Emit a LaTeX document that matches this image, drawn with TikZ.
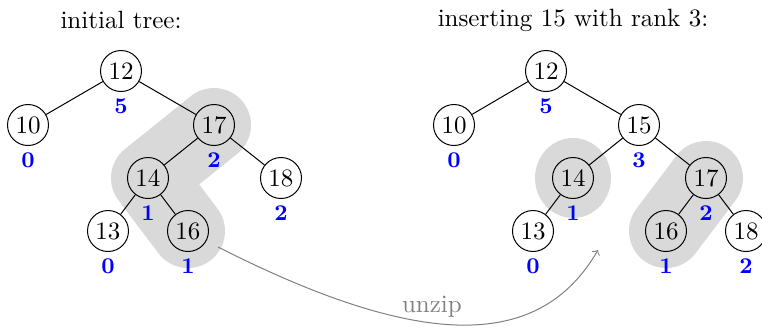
\documentclass[tikz,border=0pt]{standalone}
\usetikzlibrary{backgrounds}
\begin{document}
\begin{tikzpicture}[x=0.4pt,y=0.4pt,
  tn/.style={circle,draw,minimum size=16.4pt,inner sep=0pt,font=\fontsize{10}{12}\selectfont},
  rank/.style={text=blue,font=\fontsize{9}{10}\selectfont\bfseries,inner sep=2.5pt},
  hl/.style={line width=29.6pt,line cap=round,line join=round,draw=black!15},
  ttl/.style={font=\fontsize{10}{12}\selectfont},
  edge/.style={draw=black,line width=0.4pt},
  zipper/.style={draw=gray,line width=0.4pt,->}]
\useasboundingbox (0,0) rectangle (762,-329);
% titles
\node[ttl] (t1) at (121,-20) {initial tree:};
\node[ttl] (t2) at (573,-20) {inserting 15 with rank 3:};
% left tree
\node[tn,label={[rank]below:5}] (a12) at (121,-71) {12};
\node[tn,label={[rank]below:0}] (a10) at (28,-125) {10};
\node[tn,label={[rank]below:2}] (a17) at (214,-125) {17};
\node[tn,label={[rank]below:1}] (a14) at (148,-178) {14};
\node[tn,label={[rank]below:2}] (a18) at (281,-178) {18};
\node[tn,label={[rank]below:0}] (a13) at (108,-231) {13};
\node[tn,label={[rank]below:1}] (a16) at (188,-231) {16};
\draw[edge] (a12) -- (a10);
\draw[edge] (a12) -- (a17);
\draw[edge] (a17) -- (a14);
\draw[edge] (a17) -- (a18);
\draw[edge] (a14) -- (a13);
\draw[edge] (a14) -- (a16);
% right tree
\node[tn,label={[rank]below:5}] (b12) at (546,-71) {12};
\node[tn,label={[rank]below:0}] (b10) at (454,-125) {10};
\node[tn,label={[rank]below:3}] (b15) at (639,-125) {15};
\node[tn,label={[rank]below:1}] (b14) at (573,-178) {14};
\node[tn,label={[rank]below:2}] (b17) at (706,-178) {17};
\node[tn,label={[rank]below:0}] (b13) at (533,-231) {13};
\node[tn,label={[rank]below:1}] (b16) at (666,-231) {16};
\node[tn,label={[rank]below:2}] (b18) at (746,-231) {18};
\draw[edge] (b12) -- (b10);
\draw[edge] (b12) -- (b15);
\draw[edge] (b15) -- (b14);
\draw[edge] (b15) -- (b17);
\draw[edge] (b14) -- (b13);
\draw[edge] (b17) -- (b16);
\draw[edge] (b17) -- (b18);
% highlights
\begin{scope}[on background layer]
\draw[hl] (a17.center) -- (a14.center) -- (a16.center);
\fill[black!15] (b14.center) ellipse (38 and 40);
\draw[hl] (b17.center) -- (b16.center);
\end{scope}
% unzip arrow
\coordinate (us) at (218,-247);
\coordinate (ue) at (598,-250);
\draw[zipper] (us) .. controls (423,-351) and (540,-350) .. node[pos=0.42,above,inner sep=2pt,text=gray,font=\fontsize{10}{12}\selectfont] (uz) {unzip} (ue);
\end{tikzpicture}
\end{document}
